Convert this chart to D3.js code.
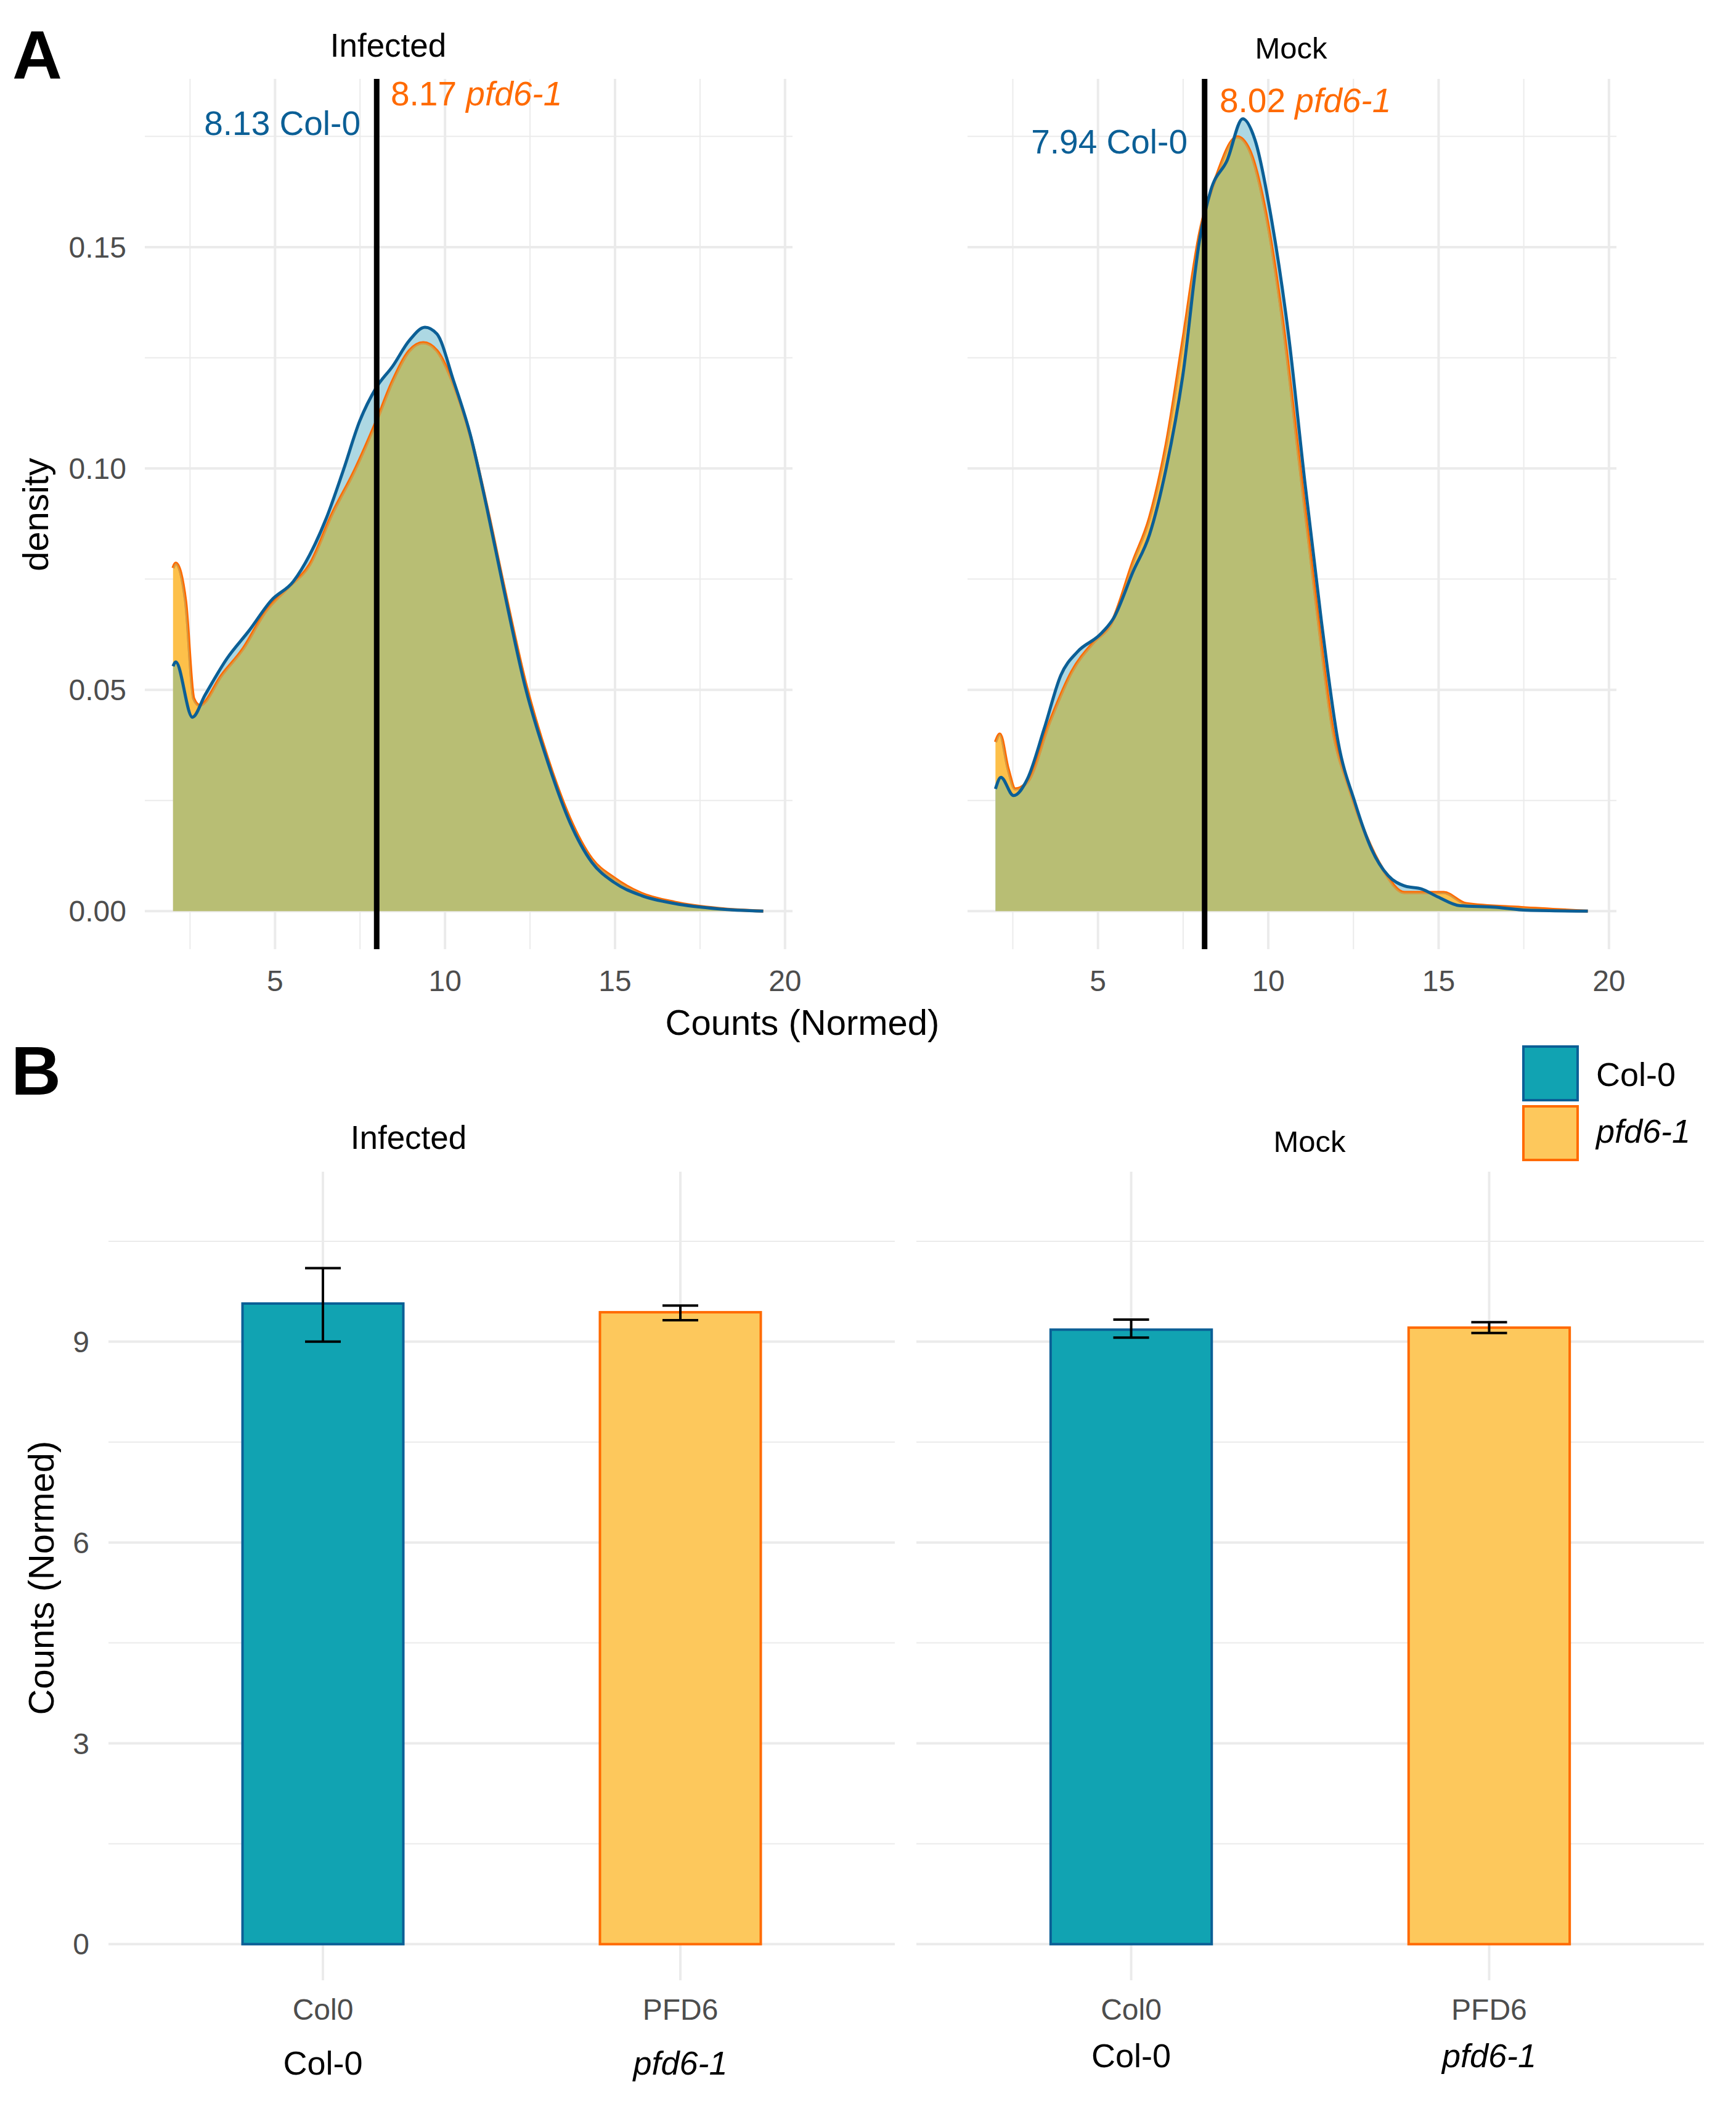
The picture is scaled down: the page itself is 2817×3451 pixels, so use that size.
<!DOCTYPE html>
<html lang="en">
<head>
<meta charset="utf-8">
<style>
  body{ margin:0; background:#fff; }
  text{ font-family: "Liberation Sans", Arial, sans-serif; }
  .grid{ stroke:#ebebeb; }
</style>
</head>
<body>
<script src="https://cdnjs.cloudflare.com/ajax/libs/d3/7.8.5/d3.min.js"></script>
<script>
// ---- data ----
// density curves, [count, density]
var infColX = [2.0,2.08,2.57,2.94,3.59,4.24,4.89,5.54,6.02,6.51,7.0,7.49,7.98,8.46,8.95,9.41,9.76,10.25,10.74,11.23,11.72,12.37,13.02,13.67,14.32,14.97,15.78,16.76,18.06,19.36];
var infColY = [0.0553,0.0563,0.0438,0.0488,0.0571,0.0634,0.0702,0.0745,0.0805,0.0888,0.0994,0.1107,0.1183,0.1231,0.1289,0.1319,0.1304,0.1198,0.1077,0.0911,0.0730,0.0503,0.0337,0.0201,0.0110,0.0065,0.0035,0.0017,0.0005,0.0];
var infPfdX = [2.0,2.08,2.37,2.61,2.78,3.43,4.07,4.72,5.37,6.02,6.67,7.33,7.98,8.46,8.95,9.36,9.76,10.25,10.74,11.23,11.72,12.37,13.02,13.67,14.32,14.97,15.78,16.76,18.06,19.36];
var infPfdY = [0.0775,0.0786,0.070,0.048,0.0465,0.0533,0.0594,0.0677,0.073,0.0783,0.0896,0.0994,0.1107,0.1198,0.1266,0.1284,0.1266,0.119,0.1075,0.0915,0.0738,0.0515,0.0345,0.021,0.0118,0.0075,0.004,0.002,0.0006,0.0];
var mockColX = [1.99,2.15,2.52,2.93,3.42,3.91,4.40,5.05,5.46,6.03,6.51,7.0,7.49,7.98,8.31,8.79,9.25,9.61,10.1,10.59,11.07,11.56,12.05,12.54,13.03,13.52,14.0,14.5,14.98,15.63,16.6,17.6,19.38];
var mockColY = [0.0276,0.0302,0.0261,0.0299,0.0412,0.0533,0.0586,0.0624,0.0662,0.0767,0.085,0.100,0.121,0.1515,0.1628,0.1696,0.179,0.1742,0.156,0.1304,0.0971,0.0654,0.0382,0.0246,0.014,0.008,0.0057,0.005,0.0032,0.0012,0.0009,0.0002,0.0];
var mockPfdX = [1.99,2.12,2.36,2.57,2.93,3.58,4.23,4.89,5.37,6.03,6.51,7.0,7.49,7.98,8.47,9.09,9.45,9.93,10.42,10.91,11.4,11.89,12.38,12.87,13.36,14.0,14.5,15.15,15.8,17.43,19.38];
var mockPfdY = [0.0382,0.040,0.0322,0.0276,0.0292,0.0427,0.0541,0.0609,0.0647,0.079,0.0888,0.1054,0.1289,0.153,0.1659,0.1749,0.1719,0.1576,0.1334,0.1017,0.070,0.0412,0.0276,0.0171,0.0095,0.0042,0.0042,0.0042,0.0017,0.0008,0.0];
var meanLine = [7.99, 8.13];          // vertical line per panel
var colLabel = ["8.13 Col-0", "7.94 Col-0"];
var pfdLabel = ["8.17", "8.02"];

// bars
var conditions = ["Infected", "Mock"];
var genotypes = ["Col0", "PFD6"];
var genoLabels = ["Col-0", "pfd6-1"];
var barMean = [[9.57, 9.44], [9.18, 9.21]];
var barLow  = [[9.0, 9.32], [9.06, 9.13]];
var barHigh = [[10.1, 9.54], [9.33, 9.29]];

var densTicksY = [0, 0.05, 0.10, 0.15];
var densTicksX = [5, 10, 15, 20];
var barTicksY = [0, 3, 6, 9];

var colFill = "#11a3b2", colLine = "#0b5f96", pfdFill = "#fdc85c", pfdLine = "#ff6a00";

var svg = d3.select("body").append("svg").attr("width", 2817).attr("height", 3451);
function zip(a, b){ return a.map(function(v, i){ return [v, b[i]]; }); }

// ---- panel A ----
var densPanels = [
  {left:235, right:1286, title:"Infected", tx:630, ty:92, tsize:53, col:zip(infColX, infColY), pfd:zip(infPfdX, infPfdY),
   cl:{x:585, y:219}, pl:{x:634, y:171}},
  {left:1570, right:2623, title:"Mock", tx:2095, ty:95, tsize:49, col:zip(mockColX, mockColY), pfd:zip(mockPfdX, mockPfdY),
   cl:{x:1927, y:249}, pl:{x:1979, y:182}}
];
var yD = d3.scaleLinear().domain([-0.0086, 0.188]).range([1540, 128]);

densPanels.forEach(function(p, k){
  var x = d3.scaleLinear().domain([1.17, 20.22]).range([p.left, p.right]);
  var g = svg.append("g");
  [0.025,0.075,0.125,0.175].forEach(function(t){
    g.append("line").attr("class","grid").attr("stroke-width",2).attr("x1",p.left).attr("x2",p.right).attr("y1",yD(t)).attr("y2",yD(t));
  });
  [2.5,7.5,12.5,17.5].forEach(function(t){
    g.append("line").attr("class","grid").attr("stroke-width",2).attr("x1",x(t)).attr("x2",x(t)).attr("y1",128).attr("y2",1540);
  });
  densTicksY.forEach(function(t){
    g.append("line").attr("class","grid").attr("stroke-width",4).attr("x1",p.left).attr("x2",p.right).attr("y1",yD(t)).attr("y2",yD(t));
  });
  densTicksX.forEach(function(t){
    g.append("line").attr("class","grid").attr("stroke-width",4).attr("x1",x(t)).attr("x2",x(t)).attr("y1",128).attr("y2",1540);
    g.append("text").attr("x",x(t)).attr("y",1608).attr("text-anchor","middle").attr("font-size",48).attr("fill","#4d4d4d").text(t);
  });
  if(k === 0){
    densTicksY.forEach(function(t){
      g.append("text").attr("x",205).attr("y",yD(t)+17).attr("text-anchor","end").attr("font-size",48).attr("fill","#4d4d4d").text(d3.format(".2f")(t));
    });
  }
  var area = d3.area().curve(d3.curveMonotoneX).x(function(d){return x(d[0]);}).y0(yD(0)).y1(function(d){return yD(d[1]);});
  var line = d3.line().curve(d3.curveMonotoneX).x(function(d){return x(d[0]);}).y(function(d){return yD(d[1]);});
  var cid = "clipPfd" + k;
  svg.append("clipPath").attr("id", cid).append("path").attr("d", area(p.pfd));
  g.append("path").attr("d", area(p.pfd)).attr("fill","#fdc04a");
  g.append("path").attr("d", area(p.col)).attr("fill","#add8e3");
  g.append("path").attr("d", area(p.col)).attr("fill","#b8be74").attr("clip-path","url(#" + cid + ")");
  g.append("path").attr("d", line(p.pfd)).attr("fill","none").attr("stroke",pfdLine).attr("stroke-width",5);
  g.append("path").attr("d", line(p.pfd)).attr("fill","none").attr("stroke","#b8be74").attr("stroke-opacity",0.55).attr("stroke-width",5)
    .attr("clip-path","url(#" + cid + ")");
  g.append("path").attr("d", line(p.col)).attr("fill","none").attr("stroke",colLine).attr("stroke-width",5);
  g.append("line").attr("x1",x(meanLine[k])).attr("x2",x(meanLine[k])).attr("y1",128).attr("y2",1540).attr("stroke","#000").attr("stroke-width",9);
  g.append("text").attr("x",p.tx).attr("y",p.ty).attr("text-anchor","middle").attr("font-size",p.tsize).text(p.title);
  g.append("text").attr("x",p.cl.x).attr("y",p.cl.y).attr("text-anchor","end").attr("font-size",55).attr("fill",colLine).text(colLabel[k]);
  var t2 = g.append("text").attr("x",p.pl.x).attr("y",p.pl.y).attr("font-size",55).attr("fill",pfdLine);
  t2.append("tspan").text(pfdLabel[k] + " ");
  t2.append("tspan").attr("font-style","italic").text("pfd6-1");
});
svg.append("text").attr("x",1302).attr("y",1679).attr("text-anchor","middle").attr("font-size",58).text("Counts (Normed)");
svg.append("text").attr("transform","translate(78,835) rotate(-90)").attr("text-anchor","middle").attr("font-size",58).text("density");
svg.append("text").attr("x",20).attr("y",128).attr("font-size",112).attr("font-weight",900).attr("font-family","DejaVu Sans").text("A");

// ---- panel B ----
var yB = d3.scaleLinear().domain([-0.54, 11.54]).range([3213, 1901]);
var barPanels = [
  {left:176, right:1452, tx:663, ty:1864, tsize:53, row2:3366},
  {left:1487, right:2765, tx:2125, ty:1869, tsize:49, row2:3354}
];
barPanels.forEach(function(p, k){
  var x = d3.scaleLinear().domain([0.4, 2.6]).range([p.left, p.right]);
  var g = svg.append("g");
  [1.5,4.5,7.5,10.5].forEach(function(t){
    g.append("line").attr("class","grid").attr("stroke-width",2).attr("x1",p.left).attr("x2",p.right).attr("y1",yB(t)).attr("y2",yB(t));
  });
  barTicksY.forEach(function(t){
    g.append("line").attr("class","grid").attr("stroke-width",4).attr("x1",p.left).attr("x2",p.right).attr("y1",yB(t)).attr("y2",yB(t));
    if(k === 0) g.append("text").attr("x",145).attr("y",yB(t)+17).attr("text-anchor","end").attr("font-size",48).attr("fill","#4d4d4d").text(t);
  });
  genotypes.forEach(function(gt, j){
    var cx = x(j + 1);
    g.append("line").attr("class","grid").attr("stroke-width",4).attr("x1",cx).attr("x2",cx).attr("y1",1901).attr("y2",3213);
    g.append("rect").attr("x",x(j + 1 - 0.225)).attr("width",x(j + 1 + 0.225) - x(j + 1 - 0.225))
      .attr("y",yB(barMean[k][j])).attr("height",yB(0) - yB(barMean[k][j]))
      .attr("fill", j === 0 ? colFill : pfdFill).attr("stroke", j === 0 ? colLine : pfdLine).attr("stroke-width",4);
    var w = x(j + 1.05) - x(j + 1);
    g.append("line").attr("x1",cx).attr("x2",cx).attr("y1",yB(barLow[k][j])).attr("y2",yB(barHigh[k][j])).attr("stroke","#000").attr("stroke-width",4);
    [barLow[k][j], barHigh[k][j]].forEach(function(v){
      g.append("line").attr("x1",cx - w).attr("x2",cx + w).attr("y1",yB(v)).attr("y2",yB(v)).attr("stroke","#000").attr("stroke-width",4);
    });
    g.append("text").attr("x",cx).attr("y",3277).attr("text-anchor","middle").attr("font-size",48).attr("fill","#4d4d4d").text(gt);
    g.append("text").attr("x",cx).attr("y",p.row2).attr("text-anchor","middle").attr("font-size",54)
      .attr("font-style", j === 1 ? "italic" : "normal").text(genoLabels[j]);
  });
  g.append("text").attr("x",p.tx).attr("y",p.ty).attr("text-anchor","middle").attr("font-size",p.tsize).text(conditions[k]);
});
svg.append("text").attr("transform","translate(87,2560) rotate(-90)").attr("text-anchor","middle").attr("font-size",58).text("Counts (Normed)");
svg.append("text").attr("x",18).attr("y",1776).attr("font-size",112).attr("font-weight",900).attr("font-family","DejaVu Sans").text("B");

// legend
var leg = svg.append("g");
genoLabels.forEach(function(l, i){
  leg.append("rect").attr("x",2472).attr("y",1698 + i * 97).attr("width",88).attr("height",87)
    .attr("fill", i === 0 ? colFill : pfdFill).attr("stroke", i === 0 ? colLine : pfdLine).attr("stroke-width",4);
  leg.append("text").attr("x",2590).attr("y",1762 + i * 92).attr("font-size",54).attr("font-style", i === 1 ? "italic" : "normal").text(l);
});
</script>
</body>
</html>
